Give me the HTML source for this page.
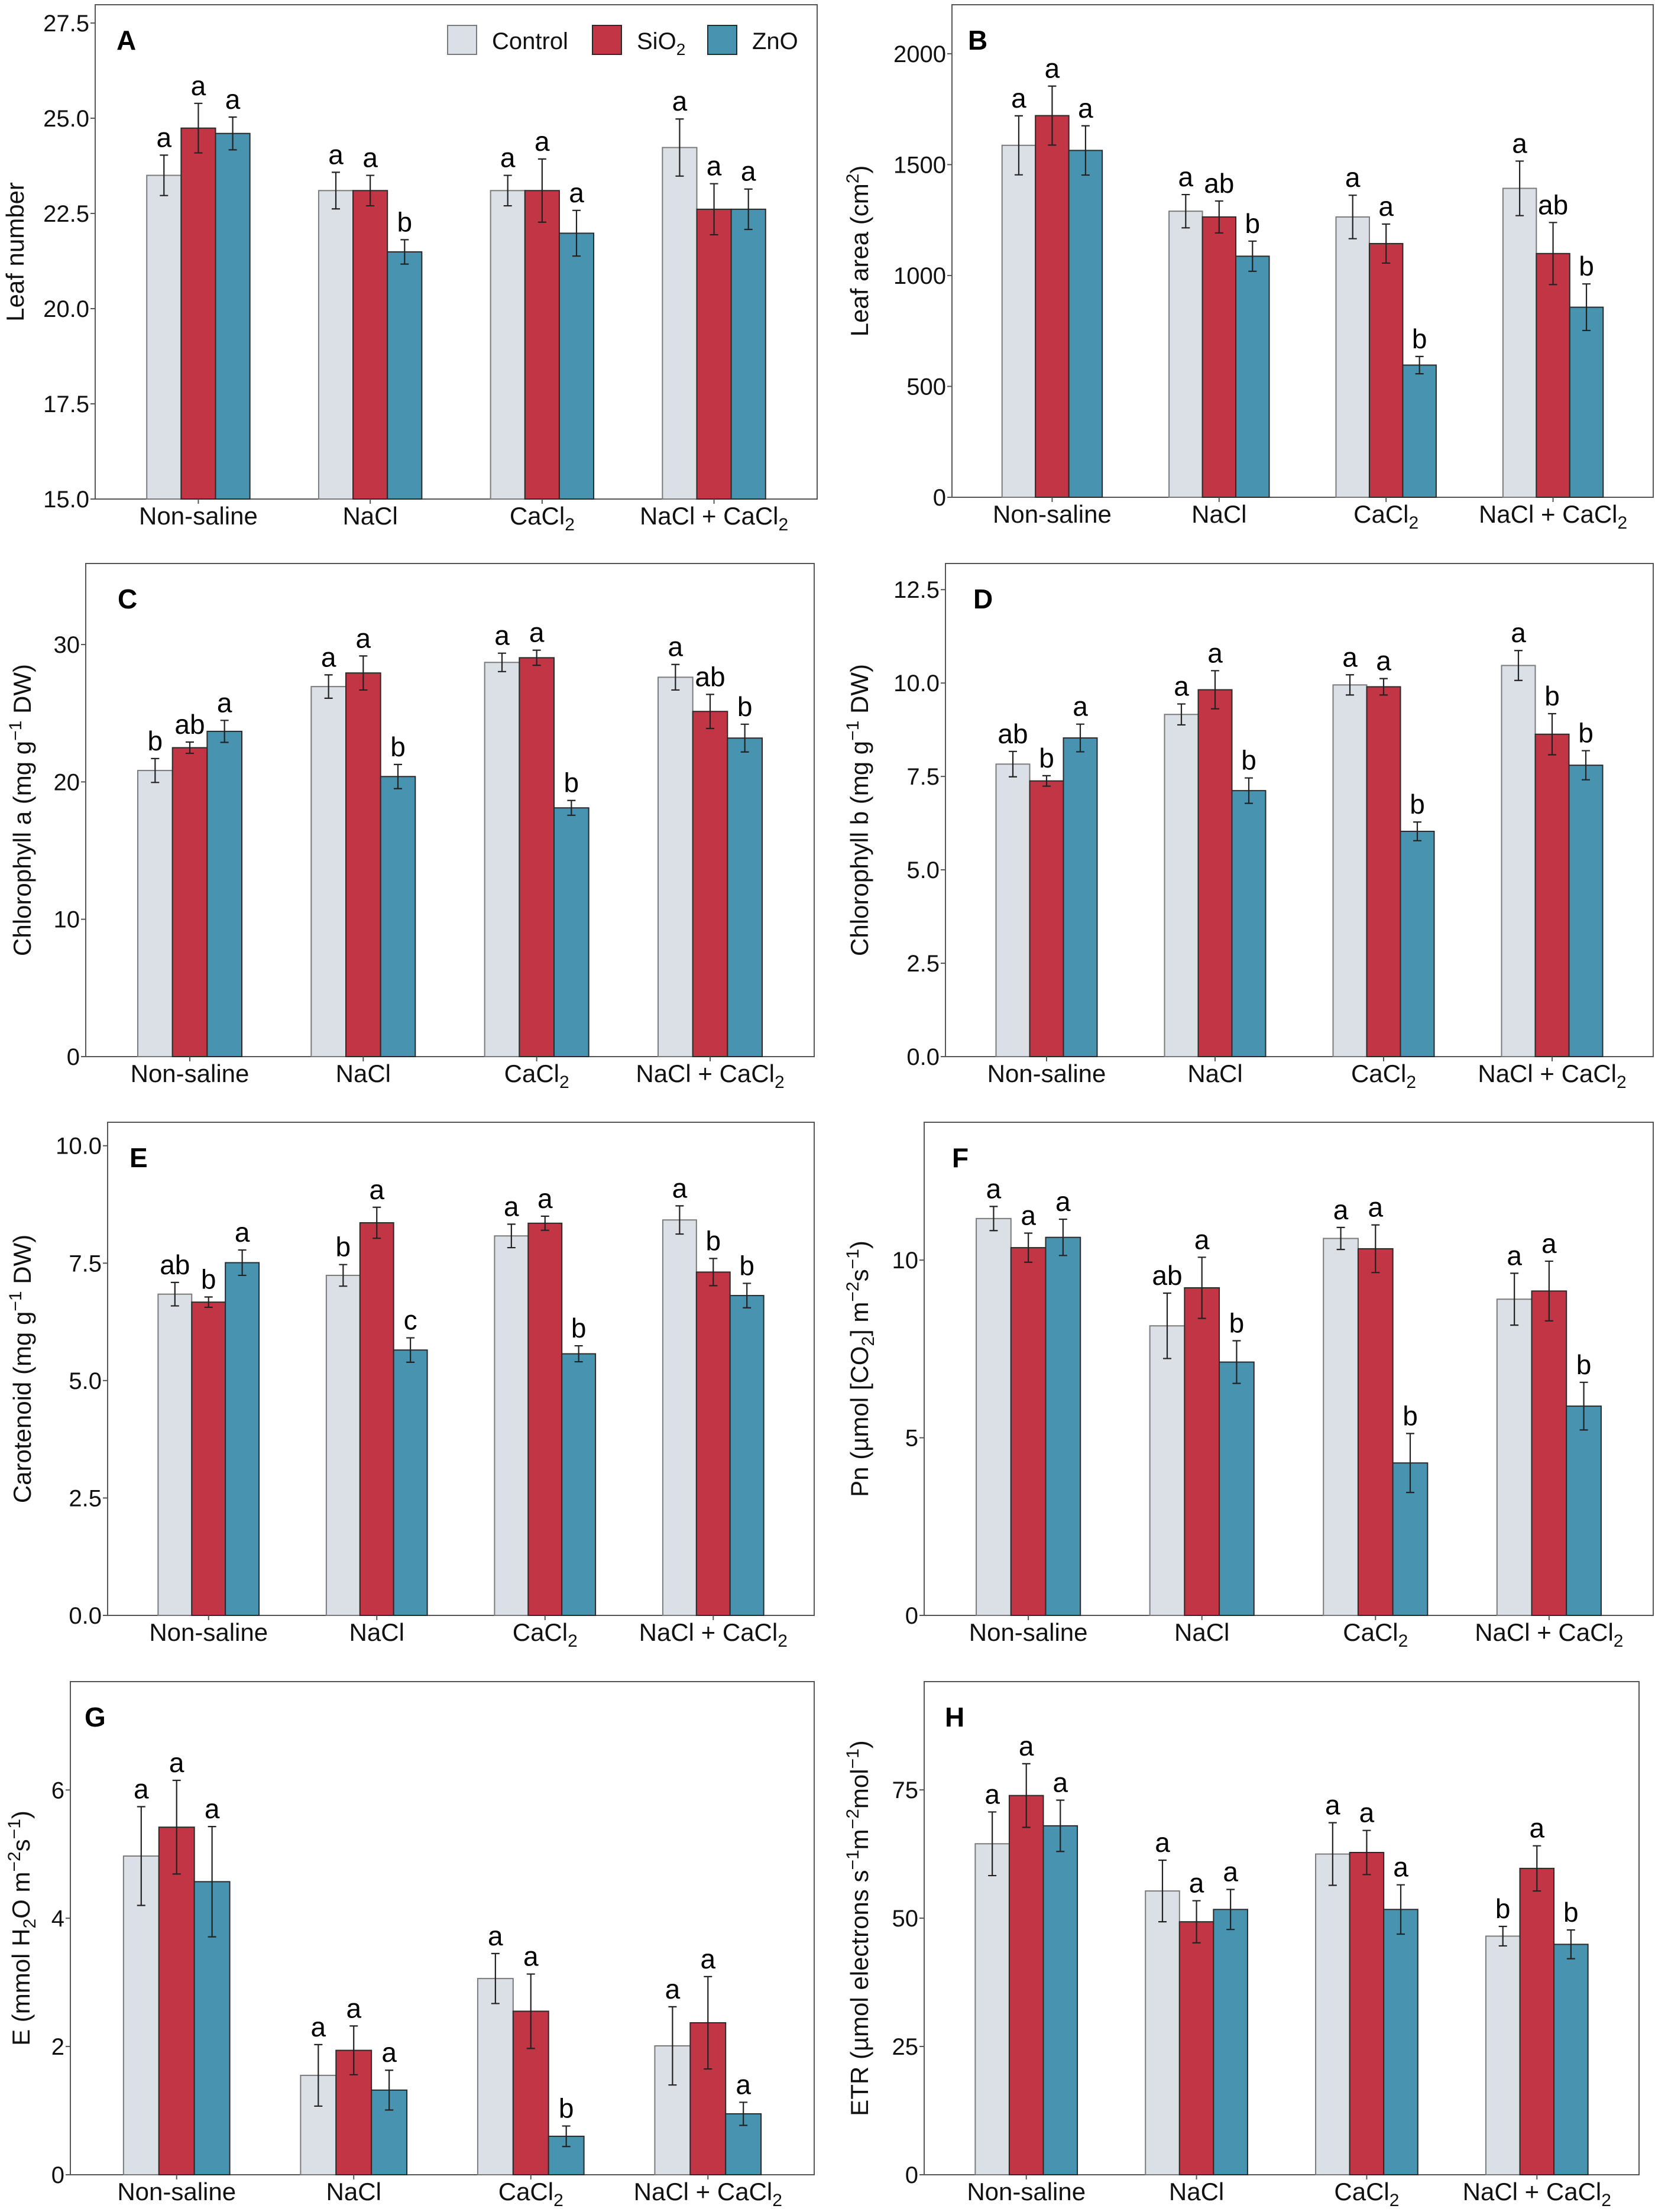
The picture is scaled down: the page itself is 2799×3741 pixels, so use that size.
<!DOCTYPE html>
<html><head><meta charset="utf-8"><title>Plant growth and physiology under salinity</title>
<style>
html,body{margin:0;padding:0;background:#fff;}
svg{display:block;font-family:"Liberation Sans",Arial,sans-serif;}
</style></head>
<body>
<svg id="fig" xmlns="http://www.w3.org/2000/svg" width="2799" height="3741" viewBox="0 0 2799 3741"></svg>
<script>
// ---------- data ----------
const categories = ["Non-saline","NaCl","CaCl2","NaCl + CaCl2"];
const seriesNames = ["Control","SiO2","ZnO"];

const A_control=[23.5,23.1,23.1,24.23], A_sio2=[24.74,23.1,23.1,22.61], A_zno=[24.6,21.49,21.98,22.61];
const A_controlErr=[0.53,0.48,0.4,0.75], A_sio2Err=[0.65,0.4,0.83,0.67], A_znoErr=[0.43,0.32,0.6,0.53];
const A_letters=[["a","a","a"],["a","a","b"],["a","a","a"],["a","a","a"]];
const A_ticks=[15.0,17.5,20.0,22.5,25.0,27.5];
const A_tickLabels=["15.0","17.5","20.0","22.5","25.0","27.5"];

const B_control=[1587,1290,1264,1393], B_sio2=[1721,1264,1144,1099], B_zno=[1564,1087,596,857];
const B_controlErr=[133,75,98,123], B_sio2Err=[133,72,88,140], B_znoErr=[111,68,39,105];
const B_letters=[["a","a","a"],["a","ab","b"],["a","a","b"],["a","ab","b"]];
const B_ticks=[0,500,1000,1500,2000];
const B_tickLabels=["0","500","1000","1500","2000"];

const C_control=[20.83,26.94,28.7,27.62], C_sio2=[22.49,27.93,29.04,25.13], C_zno=[23.68,20.39,18.11,23.19];
const C_controlErr=[0.87,0.85,0.67,0.93], C_sio2Err=[0.41,1.24,0.55,1.24], C_znoErr=[0.8,0.88,0.54,1.01];
const C_letters=[["b","ab","a"],["a","a","b"],["a","a","b"],["a","ab","b"]];
const C_ticks=[0,10,20,30];
const C_tickLabels=["0","10","20","30"];

const D_control=[7.83,9.16,9.95,10.47], D_sio2=[7.38,9.82,9.9,8.63], D_zno=[8.53,7.12,6.03,7.8];
const D_controlErr=[0.34,0.28,0.27,0.4], D_sio2Err=[0.14,0.51,0.22,0.55], D_znoErr=[0.37,0.34,0.25,0.39];
const D_letters=[["ab","b","a"],["a","a","b"],["a","a","b"],["a","b","b"]];
const D_ticks=[0,2.5,5,7.5,10,12.5];
const D_tickLabels=["0.0","2.5","5.0","7.5","10.0","12.5"];

const E_control=[6.84,7.24,8.08,8.42], E_sio2=[6.67,8.36,8.35,7.31], E_zno=[7.51,5.65,5.57,6.81];
const E_controlErr=[0.25,0.23,0.25,0.3], E_sio2Err=[0.11,0.33,0.15,0.29], E_znoErr=[0.27,0.26,0.17,0.26];
const E_letters=[["ab","b","a"],["b","a","c"],["a","a","b"],["a","b","b"]];
const E_ticks=[0,2.5,5,7.5,10];
const E_tickLabels=["0.0","2.5","5.0","7.5","10.0"];

const F_control=[11.17,8.15,10.61,8.9], F_sio2=[10.35,9.22,10.32,9.13], F_zno=[10.64,7.13,4.29,5.89];
const F_controlErr=[0.34,0.92,0.31,0.73], F_sio2Err=[0.41,0.86,0.67,0.84], F_znoErr=[0.51,0.6,0.83,0.67];
const F_letters=[["a","a","a"],["ab","a","b"],["a","a","b"],["a","a","b"]];
const F_ticks=[0,5,10];
const F_tickLabels=["0","5","10"];

const G_control=[4.97,1.55,3.06,2.01], G_sio2=[5.42,1.94,2.55,2.37], G_zno=[4.57,1.32,0.6,0.95];
const G_controlErr=[0.77,0.48,0.39,0.61], G_sio2Err=[0.73,0.38,0.58,0.72], G_znoErr=[0.86,0.31,0.16,0.18];
const G_letters=[["a","a","a"],["a","a","a"],["a","a","b"],["a","a","a"]];
const G_ticks=[0,2,4,6];
const G_tickLabels=["0","2","4","6"];

const H_control=[64.5,55.3,62.5,46.5], H_sio2=[73.9,49.3,62.8,59.7], H_zno=[68.0,51.7,51.7,44.9];
const H_controlErr=[6.2,6.0,6.1,1.9], H_sio2Err=[6.2,4.1,4.3,4.4], H_znoErr=[5.0,3.9,4.8,2.8];
const H_letters=[["a","a","a"],["a","a","a"],["a","a","a"],["b","a","b"]];
const H_ticks=[0,25,50,75];
const H_tickLabels=["0","25","50","75"];

// ---------- drawing ----------
const NS="http://www.w3.org/2000/svg";
const svg=document.getElementById('fig');
const FILLS=["#dbe0e6","#c23545","#4893b0"];
const STROKES=["#7a7a7a","#2a2a2a","#2a2a2a"];
function mk(tag,attrs,parent){const e=document.createElementNS(NS,tag);for(const k in attrs)e.setAttribute(k,attrs[k]);(parent||svg).appendChild(e);return e;}

function drawPanel(p){
  const g=mk('g',{});
  
  
  const L=p.box[0],T=p.box[1],R=p.box[2],B=p.box[3];
  const y=v=>B-(v-p.ymin)/(p.ymax-p.ymin)*(B-T);
  const unit=(R-L)/4.2;
  const xc=i=>L+(0.6+i)*unit;
  const bw=0.2*unit;
  const fr=mk('rect',{x:L,y:T,width:R-L,height:B-T,fill:'none',stroke:'#555','stroke-width':2},g);
  
  
  p.ticks.forEach((t,k)=>{
    const yy=y(t);
    const tl=mk('line',{x1:L-8,x2:L,y1:yy,y2:yy,stroke:'#555','stroke-width':2},g);
    
    
    const tx=mk('text',{x:L-10,y:yy+14,'font-size':40,'text-anchor':'end',fill:'#111'},g);
    tx.textContent=p.tickLabels[k];
    
    
  });
  const vals=[p.c,p.s,p.z], errs=[p.ce,p.se,p.ze];
  categories.forEach((cat,i)=>{
    for(let j=0;j<3;j++){
      const v=vals[j][i], e=errs[j][i];
      const x0=xc(i)+(j-1.5)*bw;
      const r=mk('rect',{x:x0,y:y(v),width:bw,height:B-y(v),fill:FILLS[j],stroke:STROKES[j],'stroke-width':2},g);
      
      
      const cx=x0+bw/2, yt=y(v+e), yb=y(v-e);
      const eb=mk('path',{d:`M${cx-7},${yt}H${cx+7}M${cx},${yt}V${yb}M${cx-7},${yb}H${cx+7}`,stroke:'#222','stroke-width':2.2,fill:'none'},g);
      
      
      const lt=mk('text',{x:cx,y:yt-14,'font-size':46,'text-anchor':'middle',fill:'#000'},g);
      lt.textContent=p.letters[i][j];
      
      
    }
    const xt=mk('line',{x1:xc(i),x2:xc(i),y1:B,y2:B+8,stroke:'#555','stroke-width':2},g);
    
    
    const lab=mk('text',{x:xc(i),y:B+43,'font-size':42,'text-anchor':'middle',fill:'#111'},g);
    
    
    if(cat.indexOf('CaCl2')>=0){
      lab.appendChild(document.createTextNode(cat.replace('CaCl2','CaCl')));
      const sb=mk('tspan',{dy:10,'font-size':30},lab);sb.textContent='2';
    } else lab.textContent=cat;
  });
  const pl=mk('text',{x:p.lx,y:T+76,'font-size':46,'font-weight':'bold',fill:'#000'},g);
  pl.textContent=p.id;
  
  
  const cy=(T+B)/2;
  const yt=mk('text',{x:0,y:0,'font-size':42,'text-anchor':'middle',fill:'#111',transform:`translate(${p.tx},${cy}) rotate(-90)`},g);
  
  
  p.title.forEach(part=>{
    const ts=mk('tspan',{},yt);
    if(part[1]==='sup'){ts.setAttribute('dy',-16);ts.setAttribute('font-size',30);}
    else if(part[1]==='sub'){ts.setAttribute('dy',10);ts.setAttribute('font-size',30);}
    else if(part[1]==='back-sup'){ts.setAttribute('dy',16);}
    else if(part[1]==='back-sub'){ts.setAttribute('dy',-10);}
    ts.textContent=part[0];
  });
}

const panels=[
 {id:'A',box:[161,8,1382,844],ymin:15,ymax:27.98,ticks:A_ticks,tickLabels:A_tickLabels,c:A_control,s:A_sio2,z:A_zno,ce:A_controlErr,se:A_sio2Err,ze:A_znoErr,letters:A_letters,lx:197,tx:40,
  title:[['Leaf number','n']]},
 {id:'B',box:[1610,8,2796,841],ymin:0,ymax:2221,ticks:B_ticks,tickLabels:B_tickLabels,c:B_control,s:B_sio2,z:B_zno,ce:B_controlErr,se:B_sio2Err,ze:B_znoErr,letters:B_letters,lx:1637,tx:1468,
  title:[['Leaf area (cm','n'],['2','sup'],[')','back-sup']]},
 {id:'C',box:[145,953,1377,1787],ymin:0,ymax:35.9,ticks:C_ticks,tickLabels:C_tickLabels,c:C_control,s:C_sio2,z:C_zno,ce:C_controlErr,se:C_sio2Err,ze:C_znoErr,letters:C_letters,lx:199,tx:52,
  title:[['Chlorophyll a (mg g','n'],['\u22121','sup'],[' DW)','back-sup']]},
 {id:'D',box:[1599,953,2796,1787],ymin:0,ymax:13.2,ticks:D_ticks,tickLabels:D_tickLabels,c:D_control,s:D_sio2,z:D_zno,ce:D_controlErr,se:D_sio2Err,ze:D_znoErr,letters:D_letters,lx:1646,tx:1468,
  title:[['Chlorophyll b (mg g','n'],['\u22121','sup'],[' DW)','back-sup']]},
 {id:'E',box:[182,1898,1377,2732],ymin:0,ymax:10.5,ticks:E_ticks,tickLabels:E_tickLabels,c:E_control,s:E_sio2,z:E_zno,ce:E_controlErr,se:E_sio2Err,ze:E_znoErr,letters:E_letters,lx:219,tx:52,
  title:[['Carotenoid (mg g','n'],['\u22121','sup'],[' DW)','back-sup']]},
 {id:'F',box:[1563,1898,2796,2732],ymin:0,ymax:13.88,ticks:F_ticks,tickLabels:F_tickLabels,c:F_control,s:F_sio2,z:F_zno,ce:F_controlErr,se:F_sio2Err,ze:F_znoErr,letters:F_letters,lx:1610,tx:1468,
  title:[['Pn (\u00b5mol [CO','n'],['2','sub'],['] m','back-sub'],['\u22122','sup'],['s','back-sup'],['\u22121','sup'],[')','back-sup']]},
 {id:'G',box:[119,2844,1377,3678],ymin:0,ymax:7.69,ticks:G_ticks,tickLabels:G_tickLabels,c:G_control,s:G_sio2,z:G_zno,ce:G_controlErr,se:G_sio2Err,ze:G_znoErr,letters:G_letters,lx:143,tx:50,
  title:[['E (mmol H','n'],['2','sub'],['O m','back-sub'],['\u22122','sup'],['s','back-sup'],['\u22121','sup'],[')','back-sup']]},
 {id:'H',box:[1563,2844,2772,3678],ymin:0,ymax:96.1,ticks:H_ticks,tickLabels:H_tickLabels,c:H_control,s:H_sio2,z:H_zno,ce:H_controlErr,se:H_sio2Err,ze:H_znoErr,letters:H_letters,lx:1598,tx:1468,
  title:[['ETR (\u00b5mol electrons s','n'],['\u22121','sup'],['m','back-sup'],['\u22122','sup'],['mol','back-sup'],['\u22121','sup'],[')','back-sup']]}
];
panels.forEach(drawPanel);

const lg=mk('g',{});


const legX=[757,1002,1197];
seriesNames.forEach((n,j)=>{
  const r=mk('rect',{x:legX[j],y:43,width:49,height:49,fill:FILLS[j],stroke:STROKES[j],'stroke-width':2},lg);
  
  
  const t=mk('text',{x:legX[j]+75,y:83,'font-size':40,fill:'#111'},lg);
  
  
  if(n==='SiO2'){t.appendChild(document.createTextNode('SiO'));const s=mk('tspan',{dy:10,'font-size':28},t);s.textContent='2';}
  else t.textContent=n;
});
</script>
</body></html>
